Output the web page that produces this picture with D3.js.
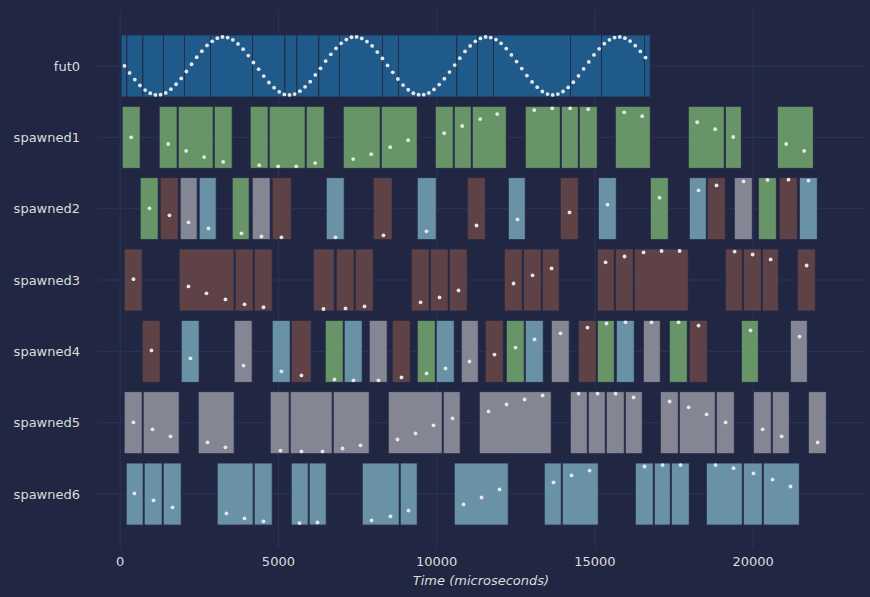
<!DOCTYPE html>
<html><head><meta charset="utf-8">
<script src="https://cdn.jsdelivr.net/npm/d3@7"></script>
<style>body{margin:0;background:#212743}</style></head>
<body><svg id="c" width="870" height="597"></svg>
<script>
const rows = ["fut0","spawned1","spawned2","spawned3","spawned4","spawned5","spawned6"];
const xTicks = [0,5000,10000,15000,20000];
const stateColors = {F:"#1f5a8a",G:"#689567",B:"#5f4246",S:"#858694",L:"#6a92a6"};
// [start, end, state]
const fut0Bars = [[32,212,"F"],[212,717,"F"],[717,1368,"F"],[1368,2032,"F"],[2032,2853,"F"],[2853,4180,"F"],[4180,5204,"F"],[5204,5583,"F"],[5583,6278,"F"],[6278,6929,"F"],[6929,8288,"F"],[8288,8793,"F"],[8793,10638,"F"],[10638,11289,"F"],[11289,11795,"F"],[11795,14228,"F"],[14228,15207,"F"],[15207,16566,"F"],[16566,16746,"F"]];
const s1Bars = [[63,632,"G"],[1232,1801,"G"],[1833,2939,"G"],[2970,3539,"G"],[4108,4677,"G"],[4708,5846,"G"],[5878,6446,"G"],[7047,8216,"G"],[8248,9385,"G"],[9954,10523,"G"],[10554,11092,"G"],[11123,12198,"G"],[12798,13904,"G"],[13936,14473,"G"],[14504,15073,"G"],[15642,16748,"G"],[17949,19086,"G"],[19118,19624,"G"],[20761,21899,"G"]];
const s2Bars = [[632,1201,"G"],[1264,1833,"B"],[1896,2433,"S"],[2496,3034,"L"],[3539,4076,"G"],[4171,4740,"S"],[4803,5404,"B"],[6510,7078,"L"],[7995,8595,"B"],[9385,9986,"L"],[10965,11534,"B"],[12261,12798,"L"],[13904,14473,"B"],[15105,15674,"L"],[16748,17317,"G"],[17980,18518,"L"],[18549,19118,"B"],[19402,19971,"S"],[20161,20730,"G"],[20824,21393,"B"],[21456,22025,"L"]];
const s3Bars = [[126,695,"B"],[1864,3602,"B"],[3634,4203,"B"],[4234,4803,"B"],[6099,6762,"B"],[6826,7394,"B"],[7426,7995,"B"],[9196,9764,"B"],[9796,10365,"B"],[10396,10965,"B"],[12134,12703,"B"],[12735,13304,"B"],[13335,13872,"B"],[15073,15610,"B"],[15642,16211,"B"],[16242,17949,"B"],[19118,19655,"B"],[19687,20256,"B"],[20287,20793,"B"],[21393,21962,"B"]];
const s4Bars = [[695,1264,"B"],[1928,2496,"L"],[3602,4171,"S"],[4803,5372,"L"],[5404,6036,"B"],[6478,7047,"G"],[7078,7647,"L"],[7868,8437,"S"],[8595,9164,"B"],[9385,9954,"G"],[9986,10554,"L"],[10776,11313,"S"],[11534,12103,"B"],[12198,12766,"G"],[12798,13367,"L"],[13620,14188,"S"],[14473,15042,"B"],[15073,15610,"G"],[15674,16242,"L"],[16527,17064,"S"],[17348,17917,"G"],[17980,18549,"B"],[19624,20161,"G"],[21172,21709,"S"]];
const s5Bars = [[126,695,"S"],[727,1864,"S"],[2465,3602,"S"],[4740,5340,"S"],[5372,6699,"S"],[6731,7868,"S"],[8469,10175,"S"],[10207,10744,"S"],[11344,13620,"S"],[14220,14757,"S"],[14789,15326,"S"],[15358,15926,"S"],[15958,16495,"S"],[17064,17633,"S"],[17664,18802,"S"],[18834,19402,"S"],[20003,20572,"S"],[20603,21140,"S"],[21741,22310,"S"]];
const s6Bars = [[190,727,"L"],[758,1327,"L"],[1359,1928,"L"],[3065,4203,"L"],[4234,4803,"L"],[5404,5941,"L"],[5972,6510,"L"],[7647,8816,"L"],[8848,9385,"L"],[10554,12261,"L"],[13398,13936,"L"],[13967,15105,"L"],[16274,16843,"L"],[16874,17380,"L"],[17412,17980,"L"],[18518,19655,"L"],[19687,20287,"L"],[20319,21456,"L"]];
const barsByRow = [fut0Bars,s1Bars,s2Bars,s3Bars,s4Bars,s5Bars,s6Bars];

// fut0 samples: start time, sample step, values
const fut0Start = 136, fut0Step = 163;
const fut0Vals = [0,-0.24,-0.47,-0.67,-0.83,-0.94,-1,-0.99,-0.93,-0.8,-0.63,-0.43,-0.19,0.06,0.3,0.51,0.71,0.85,0.96,1,0.98,0.9,0.76,0.58,0.36,0.12,-0.11,-0.35,-0.57,-0.75,-0.89,-0.98,-1,-0.97,-0.87,-0.72,-0.54,-0.31,-0.08,0.17,0.4,0.61,0.78,0.91,0.99,1,0.95,0.84,0.69,0.48,0.26,0.02,-0.22,-0.45,-0.66,-0.82,-0.94,-0.99,-0.99,-0.93,-0.81,-0.64,-0.44,-0.21,0.03,0.27,0.5,0.69,0.85,0.95,1,0.98,0.91,0.78,0.6,0.38,0.15,-0.09,-0.33,-0.55,-0.73,-0.88,-0.97,-1,-0.97,-0.88,-0.74,-0.56,-0.34,-0.1,0.14,0.38,0.59,0.77,0.9,0.98,1,0.96,0.86,0.7,0.5,0.29];
const s1Dots = [[348,0],[1517,-0.23],[2085,-0.47],[2654,-0.68],[3254,-0.85],[4392,-0.96],[4992,-1],[5561,-1],[6161,-0.89],[7362,-0.75],[7930,-0.58],[8531,-0.34],[9100,-0.1],[10237,0.14],[10806,0.39],[11374,0.63],[11912,0.8],[13081,0.94],[13649,1],[14218,1],[14787,0.97],[15924,0.86],[16493,0.73],[18231,0.52],[18799,0.28],[19368,0.01],[21043,-0.23],[21611,-0.47]];
const s2Dots = [[926,0.01],[1558,-0.23],[2158,-0.47],[2790,-0.68],[3833,-0.85],[4465,-0.96],[5096,-0.99],[6803,-0.99],[8319,-0.92],[9678,-0.78],[11258,-0.58],[12553,-0.37],[14196,-0.13],[15397,0.14],[17039,0.38],[18272,0.63],[18840,0.8],[19694,0.94],[20452,0.99],[21115,1],[21747,0.97]];
const s3Dots = [[420,0.03],[2158,-0.22],[2727,-0.46],[3327,-0.67],[3928,-0.84],[4528,-0.94],[6424,-1],[7120,-0.98],[7720,-0.91],[9490,-0.77],[10090,-0.6],[10690,-0.36],[12428,-0.12],[13028,0.16],[13629,0.4],[15335,0.61],[15936,0.81],[16536,0.95],[17105,1],[17674,1],[19412,0.98],[19981,0.88],[20550,0.71],[21687,0.5]];
const s4Dots = [[989,0.03],[2221,-0.24],[3896,-0.49],[5096,-0.69],[5728,-0.83],[6771,-0.97],[7371,-1],[8161,-1],[8888,-0.9],[9678,-0.76],[10278,-0.59],[11036,-0.35],[11826,-0.11],[12490,0.13],[13090,0.41],[13912,0.62],[14765,0.82],[15365,0.96],[15965,1],[16787,1],[17640,1],[18272,0.89],[19915,0.72],[21463,0.51]];
const s5Dots = [[420,0.01],[1021,-0.23],[1590,-0.47],[2759,-0.68],[3327,-0.85],[5065,-0.96],[5728,-0.99],[6392,-0.99],[7024,-0.89],[7593,-0.78],[8762,-0.58],[9331,-0.37],[9900,-0.09],[10501,0.15],[11638,0.39],[12207,0.63],[12776,0.8],[13345,0.94],[14482,1],[15083,1],[15652,1],[16220,0.87],[17358,0.73],[17959,0.53],[18528,0.29],[19128,0.01],[20297,-0.23],[20898,-0.47],[22036,-0.68]];
const s6Dots = [[452,0.02],[1053,-0.22],[1653,-0.46],[3359,-0.67],[3928,-0.84],[4528,-0.94],[5665,-1],[6234,-0.98],[7941,-0.91],[8541,-0.77],[9110,-0.57],[10848,-0.36],[11417,-0.12],[11985,0.16],[13691,0.4],[14260,0.64],[14829,0.81],[16567,0.95],[17135,1],[17704,1],[18810,1],[19380,0.89],[20009,0.71],[20610,0.5],[21179,0.26]];
const dotsByRow = [fut0Vals.map((v,i)=>[fut0Start+i*fut0Step,v]),s1Dots,s2Dots,s3Dots,s4Dots,s5Dots,s6Dots];

const svg = d3.select("#c");
svg.append("rect").attr("width",870).attr("height",597).attr("fill","#212743");
const x = d3.scaleLinear().domain([-700,23500]).range([98,864]);
const y = d3.scaleBand().domain(rows).range([30.3,529.7]).paddingInner(0.13).paddingOuter(0.065);
const bw = y.bandwidth();
const g = svg.append("g");
// grid
g.selectAll(".vg").data(xTicks).join("line").attr("x1",d=>x(d)).attr("x2",d=>x(d)).attr("y1",10).attr("y2",548).attr("stroke","#2c3558").attr("stroke-width",1);
g.selectAll(".hg").data(rows).join("line").attr("y1",d=>y(d)+bw/2).attr("y2",d=>y(d)+bw/2).attr("x1",98).attr("x2",864).attr("stroke","#2c3558").attr("stroke-width",1);
// bars
rows.forEach((r,i)=>{
  g.append("g").selectAll("rect").data(barsByRow[i]).join("rect")
   .attr("x",d=>x(d[0])).attr("width",d=>Math.max(0.5,x(d[1])-x(d[0])))
   .attr("y",y(r)).attr("height",bw).attr("fill",d=>stateColors[d[2]])
   .attr("stroke","#232a48").attr("stroke-width",0.9);
});
// dots
const amp = 29;
rows.forEach((r,i)=>{
  const c = y(r)+bw/2;
  g.append("g").selectAll("circle").data(dotsByRow[i]).join("circle")
   .attr("cx",d=>x(d[0])).attr("cy",d=>c-d[1]*amp).attr("r",1.9).attr("fill","#e6e6e6");
});
// axes text
svg.append("g").selectAll("text").data(rows).join("text")
  .attr("x",80).attr("y",d=>y(d)+bw/2).attr("dy","0.35em").attr("text-anchor","end")
  .attr("font-family","DejaVu Sans").attr("font-size",13).attr("fill","#dcdcdc").text(d=>d);
svg.append("g").selectAll("text").data(xTicks).join("text")
  .attr("x",d=>x(d)).attr("y",566).attr("text-anchor","middle")
  .attr("font-family","DejaVu Sans").attr("font-size",13).attr("fill","#dcdcdc").text(d=>d);
svg.append("text").attr("x",481).attr("y",585).attr("text-anchor","middle")
  .attr("font-family","DejaVu Sans").attr("font-style","italic").attr("font-size",13).attr("fill","#dcdcdc").text("Time (microseconds)");
</script></body></html>
